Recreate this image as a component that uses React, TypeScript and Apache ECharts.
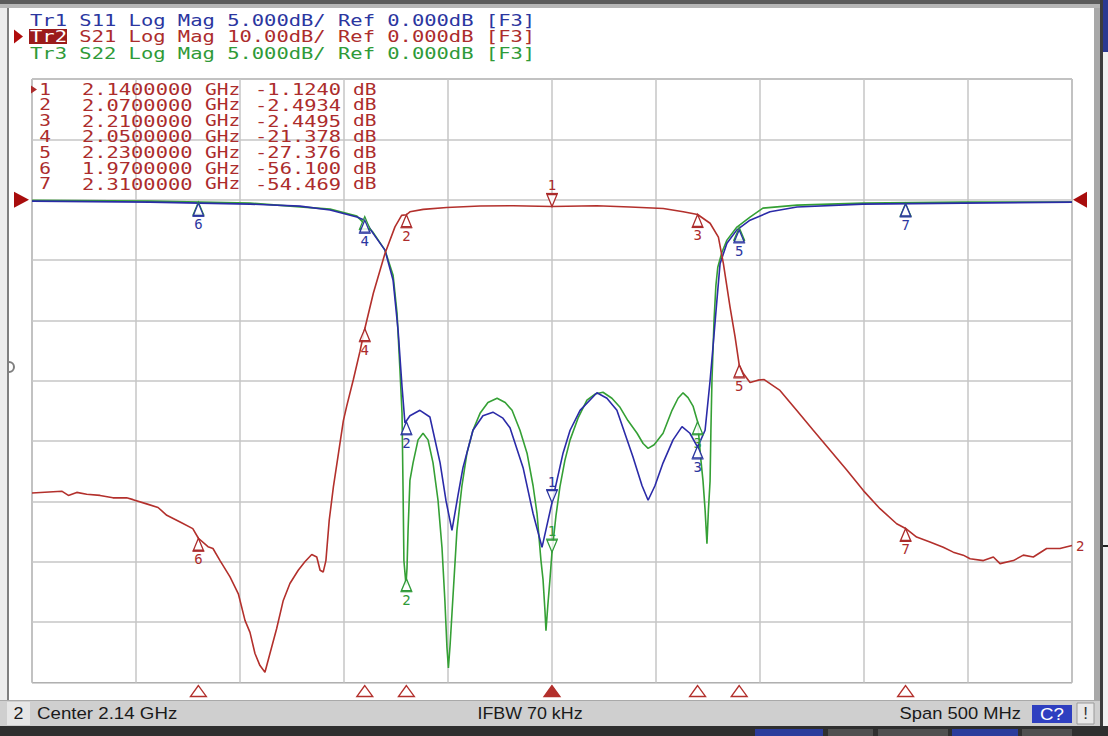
import React, { useEffect, useRef } from "react";
import * as echarts from "echarts";

// ---------- Sweep settings ----------
const CENTER_GHZ = 2.14;
const SPAN_MHZ = 500;
const DIV_MHZ = 50;
const IFBW_TEXT = "IFBW 70 kHz";

// S21 axis (10 dB/div, ref 0 dB at 8th division)
const S21_MIN = -80;
const S21_MAX = 20;
const S21_DIV = 10;
// S11 / S22 axis (5 dB/div, ref 0 dB at 8th division)
const S11_MIN = -40;
const S11_MAX = 10;
const S11_DIV = 5;
const REF_DB = 0;

// ---------- Trace data (GHz, dB) ----------
const s21Freq = [
  1.89, 1.9043, 1.9075, 1.9115, 1.9163, 1.9227, 1.9289, 1.9355, 1.9386, 1.9451, 1.9506, 1.9548,
  1.9612, 1.9673, 1.97, 1.9746, 1.977, 1.9804, 1.9852, 1.9892, 1.9924, 1.9948, 1.9972, 1.9996,
  2.002, 2.0044, 2.0076, 2.0108, 2.014, 2.018, 2.0212, 2.0245, 2.0269, 2.0285, 2.03, 2.0313,
  2.0329, 2.0349, 2.0373, 2.0397, 2.0413, 2.0445, 2.0477, 2.05, 2.0541, 2.0597, 2.0645, 2.0677,
  2.07, 2.0717, 2.0781, 2.0894, 2.1054, 2.1214, 2.14, 2.1615, 2.1775, 2.1935, 2.2031, 2.21,
  2.216, 2.22, 2.2224, 2.2256, 2.228, 2.23, 2.232, 2.2352, 2.239, 2.242, 2.2496, 2.2576, 2.2656,
  2.2737, 2.2817, 2.2897, 2.2977, 2.3057, 2.31, 2.3153, 2.3217, 2.3281, 2.3329, 2.3377, 2.341,
  2.3474, 2.3522, 2.3554, 2.3618, 2.3666, 2.3714, 2.3778, 2.3842, 2.39,
];
const s21Db = [
  -48.6, -48.3, -49.0, -48.5, -48.8, -49.0, -49.4, -49.4, -49.7, -50.4, -51.0, -52.3,
  -53.4, -54.5, -56.1, -57.5, -57.8, -59.8, -62.5, -65.3, -69.7, -71.7, -75.2, -77.2,
  -78.3, -75.2, -71.1, -66.4, -63.6, -61.4, -60.0, -58.8, -59.2, -61.4, -61.7, -59.8,
  -53.1, -47.6, -42.1, -36.6, -34.2, -29.8, -25.1, -21.378, -15.5, -8.9, -4.5, -2.6,
  -2.4934, -2.0, -1.6, -1.3, -1.05, -1.0, -1.124, -1.0, -1.2, -1.45, -2.0, -2.4495,
  -3.9, -6.2, -10.6, -17.8, -22.7, -27.376, -28.8, -30.3, -29.9, -29.8, -31.6, -34.9, -38.2,
  -41.5, -44.8, -48.2, -51.2, -53.7, -54.469, -55.9, -56.7, -57.6, -58.4, -58.9, -59.5,
  -59.8, -59.2, -60.3, -59.8, -58.9, -59.2, -57.8, -57.8, -57.3,
];

const s11Freq = [
  1.89, 1.9467, 1.9948, 2.0188, 2.0333, 2.0462, 2.05, 2.0539, 2.0597, 2.0636, 2.066, 2.0679,
  2.0693, 2.0717, 2.0765, 2.0813, 2.0862, 2.089, 2.0919, 2.0948, 2.0972, 2.102, 2.1068, 2.1116,
  2.1164, 2.1198, 2.1261, 2.1309, 2.1352, 2.14, 2.1453, 2.1487, 2.1535, 2.1616, 2.1664, 2.1712,
  2.1789, 2.1833, 2.1862, 2.1895, 2.1934, 2.1982, 2.2025, 2.2063, 2.21, 2.2136, 2.216, 2.2174,
  2.2193, 2.2208, 2.2241, 2.2289, 2.2352, 2.2448, 2.2578, 2.2895, 2.3376, 2.39,
];
const s11Db = [
  -0.12, -0.2, -0.37, -0.53, -0.86, -1.44, -1.7, -2.77, -4.18, -6.67, -10.8, -15.5,
  -18.5, -17.9, -17.45, -18.0, -21.8, -24.9, -27.4, -24.5, -22.2, -19.1, -17.9, -17.6,
  -18.1, -18.9, -22.2, -26.0, -28.8, -25.1, -21.0, -19.1, -17.45, -16.0, -16.45, -17.45,
  -21.3, -23.7, -24.9, -23.7, -21.8, -19.9, -18.8, -19.35, -20.5, -19.1, -15.0, -12.2,
  -8.3, -5.3, -3.6, -2.5, -1.7, -1.0, -0.6, -0.37, -0.28, -0.2,
];

const s22Freq = [
  1.89, 1.9467, 1.9948, 2.0333, 2.0462, 2.0539, 2.0597, 2.0636, 2.0655, 2.0669, 2.0679, 2.0684,
  2.0688, 2.0698, 2.0703, 2.0708, 2.0717, 2.0732, 2.0756, 2.078, 2.0804, 2.0828, 2.0852, 2.0871,
  2.0885, 2.0895, 2.0902, 2.091, 2.0919, 2.0943, 2.0967, 2.0991, 2.102, 2.1054, 2.1092, 2.1136,
  2.1175, 2.1208, 2.1246, 2.128, 2.1309, 2.1328, 2.1347, 2.1357, 2.1366, 2.1371, 2.138, 2.139,
  2.14, 2.1419, 2.1438, 2.1462, 2.1487, 2.1525, 2.1568, 2.1607, 2.1645, 2.1688, 2.1727, 2.1765,
  2.1809, 2.1838, 2.1862, 2.1891, 2.1934, 2.1977, 2.2006, 2.203, 2.2054, 2.2078, 2.21, 2.2116,
  2.2126, 2.2136, 2.2145, 2.2152, 2.216, 2.2164, 2.2169, 2.2179, 2.2188, 2.2197, 2.2217, 2.2241,
  2.2289, 2.2352, 2.2414, 2.2578, 2.2895, 2.3376, 2.39,
];
const s22Db = [
  -0.05, -0.12, -0.28, -0.78, -1.36, -2.69, -4.18, -6.25, -9.4, -14.1, -17.7, -24.1,
  -29.9, -31.9, -30.5, -27.4, -23.25, -21.8, -19.9, -19.35, -19.9, -21.8, -24.9, -28.8,
  -33.2, -37.1, -38.8, -36.9, -34.3, -27.4, -23.7, -21.0, -19.1, -17.7, -16.8, -16.45,
  -16.8, -17.45, -19.1, -21.0, -23.7, -26.0, -29.9, -31.5, -34.0, -35.7, -33.6, -31.5,
  -29.2, -26.2, -23.8, -21.6, -19.9, -18.1, -16.6, -16.1, -15.95, -16.45, -17.2, -18.3,
  -19.35, -20.2, -20.6, -20.3, -19.35, -17.45, -16.45, -16.0, -16.4, -17.1, -18.4, -21.6,
  -23.3, -25.7, -28.5, -25.7, -23.3, -19.1, -15.0, -10.0, -7.1, -5.6, -4.35, -3.35,
  -2.27, -1.44, -0.7, -0.45, -0.28, -0.2, -0.2,
];

// ---------- Markers ----------
const markerIds = [1, 2, 3, 4, 5, 6, 7];
const markerFreq = [2.14, 2.07, 2.21, 2.05, 2.23, 1.97, 2.31];
const s21MarkerDb = [-1.124, -2.4934, -2.4495, -21.378, -27.376, -56.1, -54.469];
const s11MarkerDb = [-25.1, -18.4, -20.4, -1.7, -2.5, -0.3, -0.35];
const s22MarkerDb = [-29.2, -31.4, -18.4, -1.4, -2.3, -0.2, -0.3];
// S22 marker numbers that are not hidden under the S11 ones
const s22LabelledIds = [1, 2, 3];

// ---------- Header texts ----------
const traceNames = ["Tr1", "Tr2", "Tr3"];
const traceParams = ["S11", "S21", "S22"];
const traceScales = ["5.000dB/", "10.00dB/", "5.000dB/"];
const traceRefs = ["0.000dB", "0.000dB", "0.000dB"];

// ---------- Colours ----------
const RED = "#b3302c";
const BLUE = "#2b2ba8";
const GREEN = "#35a035";
const RED_TXT = "#ac2c2c";
const BLUE_TXT = "#2b36a0";
const GREEN_TXT = "#2f9a38";

const toX = (ghz: number) => Math.round((ghz - CENTER_GHZ) * 1e6) / 1000; // MHz from centre
const pairs = (f: number[], v: number[]) => f.map((x, i) => [toX(x), v[i]]);
const markerData = (vals: number[]) => markerFreq.map((f, i) => [toX(f), vals[i], markerIds[i]]);

const MONO = '"DejaVu Sans Mono", monospace';

function traceMarker(color: string, labelled: number[] | null = null) {
  return (_params: any, api: any) => {
    const p = api.coord([api.value(0), api.value(1)]);
    const id = api.value(2);
    const showLabel = !labelled || labelled.indexOf(id) >= 0;
    const w = 5;
    const h = 12;
    const up = id === 1;
    const children: any[] = [
      {
        type: "polygon",
        shape: {
          points: up
            ? [[p[0] - w, p[1] - h], [p[0] + w, p[1] - h], [p[0], p[1]]]
            : [[p[0], p[1]], [p[0] - w, p[1] + h], [p[0] + w, p[1] + h]],
        },
        style: { fill: "rgba(255,255,255,0.85)", stroke: color, lineWidth: 1.3 },
      },
      {
        type: "line",
        shape: up
          ? { x1: p[0] - w - 1, y1: p[1] - h - 1, x2: p[0] + w + 1, y2: p[1] - h - 1 }
          : { x1: p[0] - w - 1, y1: p[1] + h + 1, x2: p[0] + w + 1, y2: p[1] + h + 1 },
        style: { stroke: color, lineWidth: 1.2 },
      },
    ];
    if (showLabel) {
      children.push({
        type: "text",
        x: p[0],
        y: up ? p[1] - h - 2 : p[1] + h + 2,
        style: {
          text: String(id),
          fill: color,
          font: `14px ${MONO}`,
          align: "center",
          verticalAlign: up ? "bottom" : "top",
        },
      });
    }
    return { type: "group", children };
  };
}

function bottomMarker(_params: any, api: any) {
  const p = api.coord([api.value(0), S21_MIN]);
  const id = api.value(2);
  const y0 = p[1] + 3;
  return {
    type: "polygon",
    shape: { points: [[p[0], y0], [p[0] - 8, y0 + 11], [p[0] + 8, y0 + 11]] },
    style: { fill: id === 1 ? RED : "#ffffff", stroke: RED, lineWidth: 1.3 },
  };
}

function refMarker(_params: any, api: any) {
  const p = api.coord([api.value(0), api.value(1)]);
  const side = api.value(2);
  const pts =
    side === 0
      ? [[p[0] - 18, p[1] - 8], [p[0] - 3, p[1]], [p[0] - 18, p[1] + 8]]
      : [[p[0] + 1, p[1]], [p[0] + 15, p[1] - 8], [p[0] + 15, p[1] + 8]];
  return { type: "polygon", shape: { points: pts }, style: { fill: "#a80d0d" } };
}

function buildGraphics() {
  const els: any[] = [];
  const rect = (x: number, y: number, w: number, h: number, fill: string, extra: any = {}, z = 1) =>
    els.push({ type: "rect", shape: { x, y, width: w, height: h }, style: { fill, ...extra }, silent: true, z });
  // window frame
  rect(0, 0, 1108, 4, "#5b5b5b");
  rect(0, 4, 1108, 4, "#b6b6b6");
  rect(0, 8, 7, 694, "#ececec");
  rect(7, 8, 2, 694, "#7f7f7f");
  els.push({
    type: "arc",
    shape: { cx: 9, cy: 367, r: 5, startAngle: -Math.PI / 2, endAngle: Math.PI / 2 },
    style: { stroke: "#7f7f7f", lineWidth: 2, fill: null },
    z: 1,
  });
  rect(1094, 8, 6, 718, "#a8a8a8");
  rect(1100, 0, 3, 726, "#3c3c3c");
  rect(1103, 0, 5, 726, "#efefef");
  rect(1103, 0, 5, 52, "#2b3990");
  rect(1103, 545, 5, 2, "#222222");
  // status bar
  rect(0, 700, 1100, 26, "#cfcfcf");
  rect(0, 700, 1100, 1, "#a9a9a9");
  rect(7, 702, 23, 23, "#e6e6e6");
  rect(1032, 705, 40, 18, "#2e3fc0");
  rect(1077, 703, 17, 21, "#e8e8e8", { stroke: "#9a9a9a", lineWidth: 1 });
  // bottom strip
  rect(0, 726, 1108, 10, "#2f2f2f");
  rect(755, 729, 68, 7, "#2b3c9c");
  rect(828, 729, 45, 7, "#505050");
  rect(878, 729, 70, 7, "#505050");
  rect(952, 729, 66, 7, "#2b3c9c");
  rect(1022, 729, 50, 7, "#505050");

  const text = (x: number, y: number, t: string, fill: string, font: string, align = "left", sx = 1, z = 10) =>
    els.push({
      type: "text",
      x,
      y,
      scaleX: sx,
      z,
      silent: true,
      style: { text: t, fill, font, align, verticalAlign: "middle", textAlign: align, textVerticalAlign: "middle" },
    });

  // header
  const HX = 30;
  const CH = 12.33;
  const headerColors = [BLUE_TXT, RED_TXT, GREEN_TXT];
  const headerY = [20, 36.5, 53];
  els.push({
    type: "polygon",
    shape: { points: [[14, headerY[1] - 7], [23, headerY[1]], [14, headerY[1] + 7]] },
    style: { fill: "#b00d0d" },
    z: 10,
  });
  rect(HX - 1, headerY[1] - 7.5, 3 * CH + 1, 15, "#9b1b1b", {}, 9);
  traceNames.forEach((n, i) => {
    text(HX, headerY[i], n, i === 1 ? "#ffffff" : headerColors[i], `16px ${MONO}`, "left", 1.28);
    text(
      HX + 4 * CH,
      headerY[i],
      `${traceParams[i]} Log Mag ${traceScales[i]} Ref ${traceRefs[i]} [F3]`,
      headerColors[i],
      `16px ${MONO}`,
      "left",
      1.28,
    );
  });

  // marker table
  const rowY0 = 89.5;
  const rowH = 15.8;
  els.push({
    type: "polygon",
    shape: { points: [[31, rowY0 - 4], [37, rowY0], [31, rowY0 + 4]] },
    style: { fill: RED_TXT },
    z: 10,
  });
  markerIds.forEach((id, i) => {
    const y = rowY0 + i * rowH;
    const f = `15px ${MONO}`;
    text(51, y, String(id), RED_TXT, f, "right", 1.3);
    text(82, y, markerFreq[i].toFixed(7), RED_TXT, f, "left", 1.36);
    text(205, y, "GHz", RED_TXT, f, "left", 1.3);
    text(341, y, s21MarkerDb[i].toPrecision(5), RED_TXT, f, "right", 1.36);
    text(353, y, "dB", RED_TXT, f, "left", 1.3);
  });

  // status bar texts
  const sf = '17px "Liberation Sans", Arial, sans-serif';
  text(18.5, 713.5, "2", "#1a1a1a", sf, "center", 1.05);
  text(37, 713.5, `Center ${CENTER_GHZ} GHz`, "#1a1a1a", sf, "left", 1.1);
  text(530, 713.5, IFBW_TEXT, "#1a1a1a", sf, "center", 1.05);
  text(1021, 713.5, `Span ${SPAN_MHZ} MHz`, "#1a1a1a", sf, "right", 1.08);
  text(1052, 714, "C?", "#ffffff", sf, "center", 1.1, 11);
  text(1085.5, 713.5, "!", "#333333", sf, "center", 1, 11);
  return els;
}

export default function App() {
  const ref = useRef<HTMLDivElement>(null);
  useEffect(() => {
    if (!ref.current) return;
    const chart = echarts.init(ref.current, null, { renderer: "svg" });
    const half = SPAN_MHZ / 2;
    const gridLine = { show: true, lineStyle: { color: "#c6c6c6", width: 1.5 } };
    chart.setOption({
      animation: false,
      backgroundColor: "#ffffff",
      grid: {
        left: 32,
        top: 79,
        width: 1040,
        height: 603.5,
        show: true,
        borderColor: "#6f6f6f",
        borderWidth: 1,
        backgroundColor: "#ffffff",
        containLabel: false,
      },
      xAxis: {
        type: "value",
        min: -half,
        max: half,
        interval: DIV_MHZ,
        axisLabel: { show: false },
        axisLine: { show: false },
        axisTick: { show: false },
        splitLine: gridLine,
      },
      yAxis: [
        {
          type: "value",
          min: S21_MIN,
          max: S21_MAX,
          interval: S21_DIV,
          axisLabel: { show: false },
          axisLine: { show: false },
          axisTick: { show: false },
          splitLine: gridLine,
        },
        {
          type: "value",
          min: S11_MIN,
          max: S11_MAX,
          interval: S11_DIV,
          axisLabel: { show: false },
          axisLine: { show: false },
          axisTick: { show: false },
          splitLine: { show: false },
        },
      ],
      series: [
        {
          name: "S22",
          type: "line",
          yAxisIndex: 1,
          data: pairs(s22Freq, s22Db),
          showSymbol: false,
          symbol: "none",
          lineStyle: { color: GREEN, width: 1.6 },
          z: 2,
          silent: true,
        },
        {
          name: "S11",
          type: "line",
          yAxisIndex: 1,
          data: pairs(s11Freq, s11Db),
          showSymbol: false,
          symbol: "none",
          lineStyle: { color: BLUE, width: 1.6 },
          z: 3,
          silent: true,
        },
        {
          name: "S21",
          type: "line",
          yAxisIndex: 0,
          data: pairs(s21Freq, s21Db),
          showSymbol: false,
          symbol: "none",
          lineStyle: { color: RED, width: 1.6 },
          endLabel: { show: true, formatter: "2", color: RED_TXT, fontSize: 14, fontFamily: "DejaVu Sans Mono", distance: 4 },
          z: 4,
          silent: true,
        },
        {
          type: "custom",
          yAxisIndex: 1,
          data: markerData(s22MarkerDb),
          renderItem: traceMarker(GREEN_TXT, s22LabelledIds),
          clip: false,
          z: 5,
          silent: true,
        },
        {
          type: "custom",
          yAxisIndex: 1,
          data: markerData(s11MarkerDb),
          renderItem: traceMarker(BLUE_TXT),
          clip: false,
          z: 6,
          silent: true,
        },
        {
          type: "custom",
          yAxisIndex: 0,
          data: markerData(s21MarkerDb),
          renderItem: traceMarker(RED_TXT),
          clip: false,
          z: 7,
          silent: true,
        },
        {
          type: "custom",
          yAxisIndex: 0,
          data: markerData(s21MarkerDb),
          renderItem: bottomMarker,
          clip: false,
          z: 7,
          silent: true,
        },
        {
          type: "custom",
          yAxisIndex: 0,
          data: [
            [-half, REF_DB, 0],
            [half, REF_DB, 1],
          ],
          renderItem: refMarker,
          clip: false,
          z: 7,
          silent: true,
        },
      ],
      graphic: { elements: buildGraphics() },
    });
    return () => chart.dispose();
  }, []);
  return <div ref={ref} style={{ position: "fixed", left: 0, top: 0, width: 1108, height: 736 }} />;
}
